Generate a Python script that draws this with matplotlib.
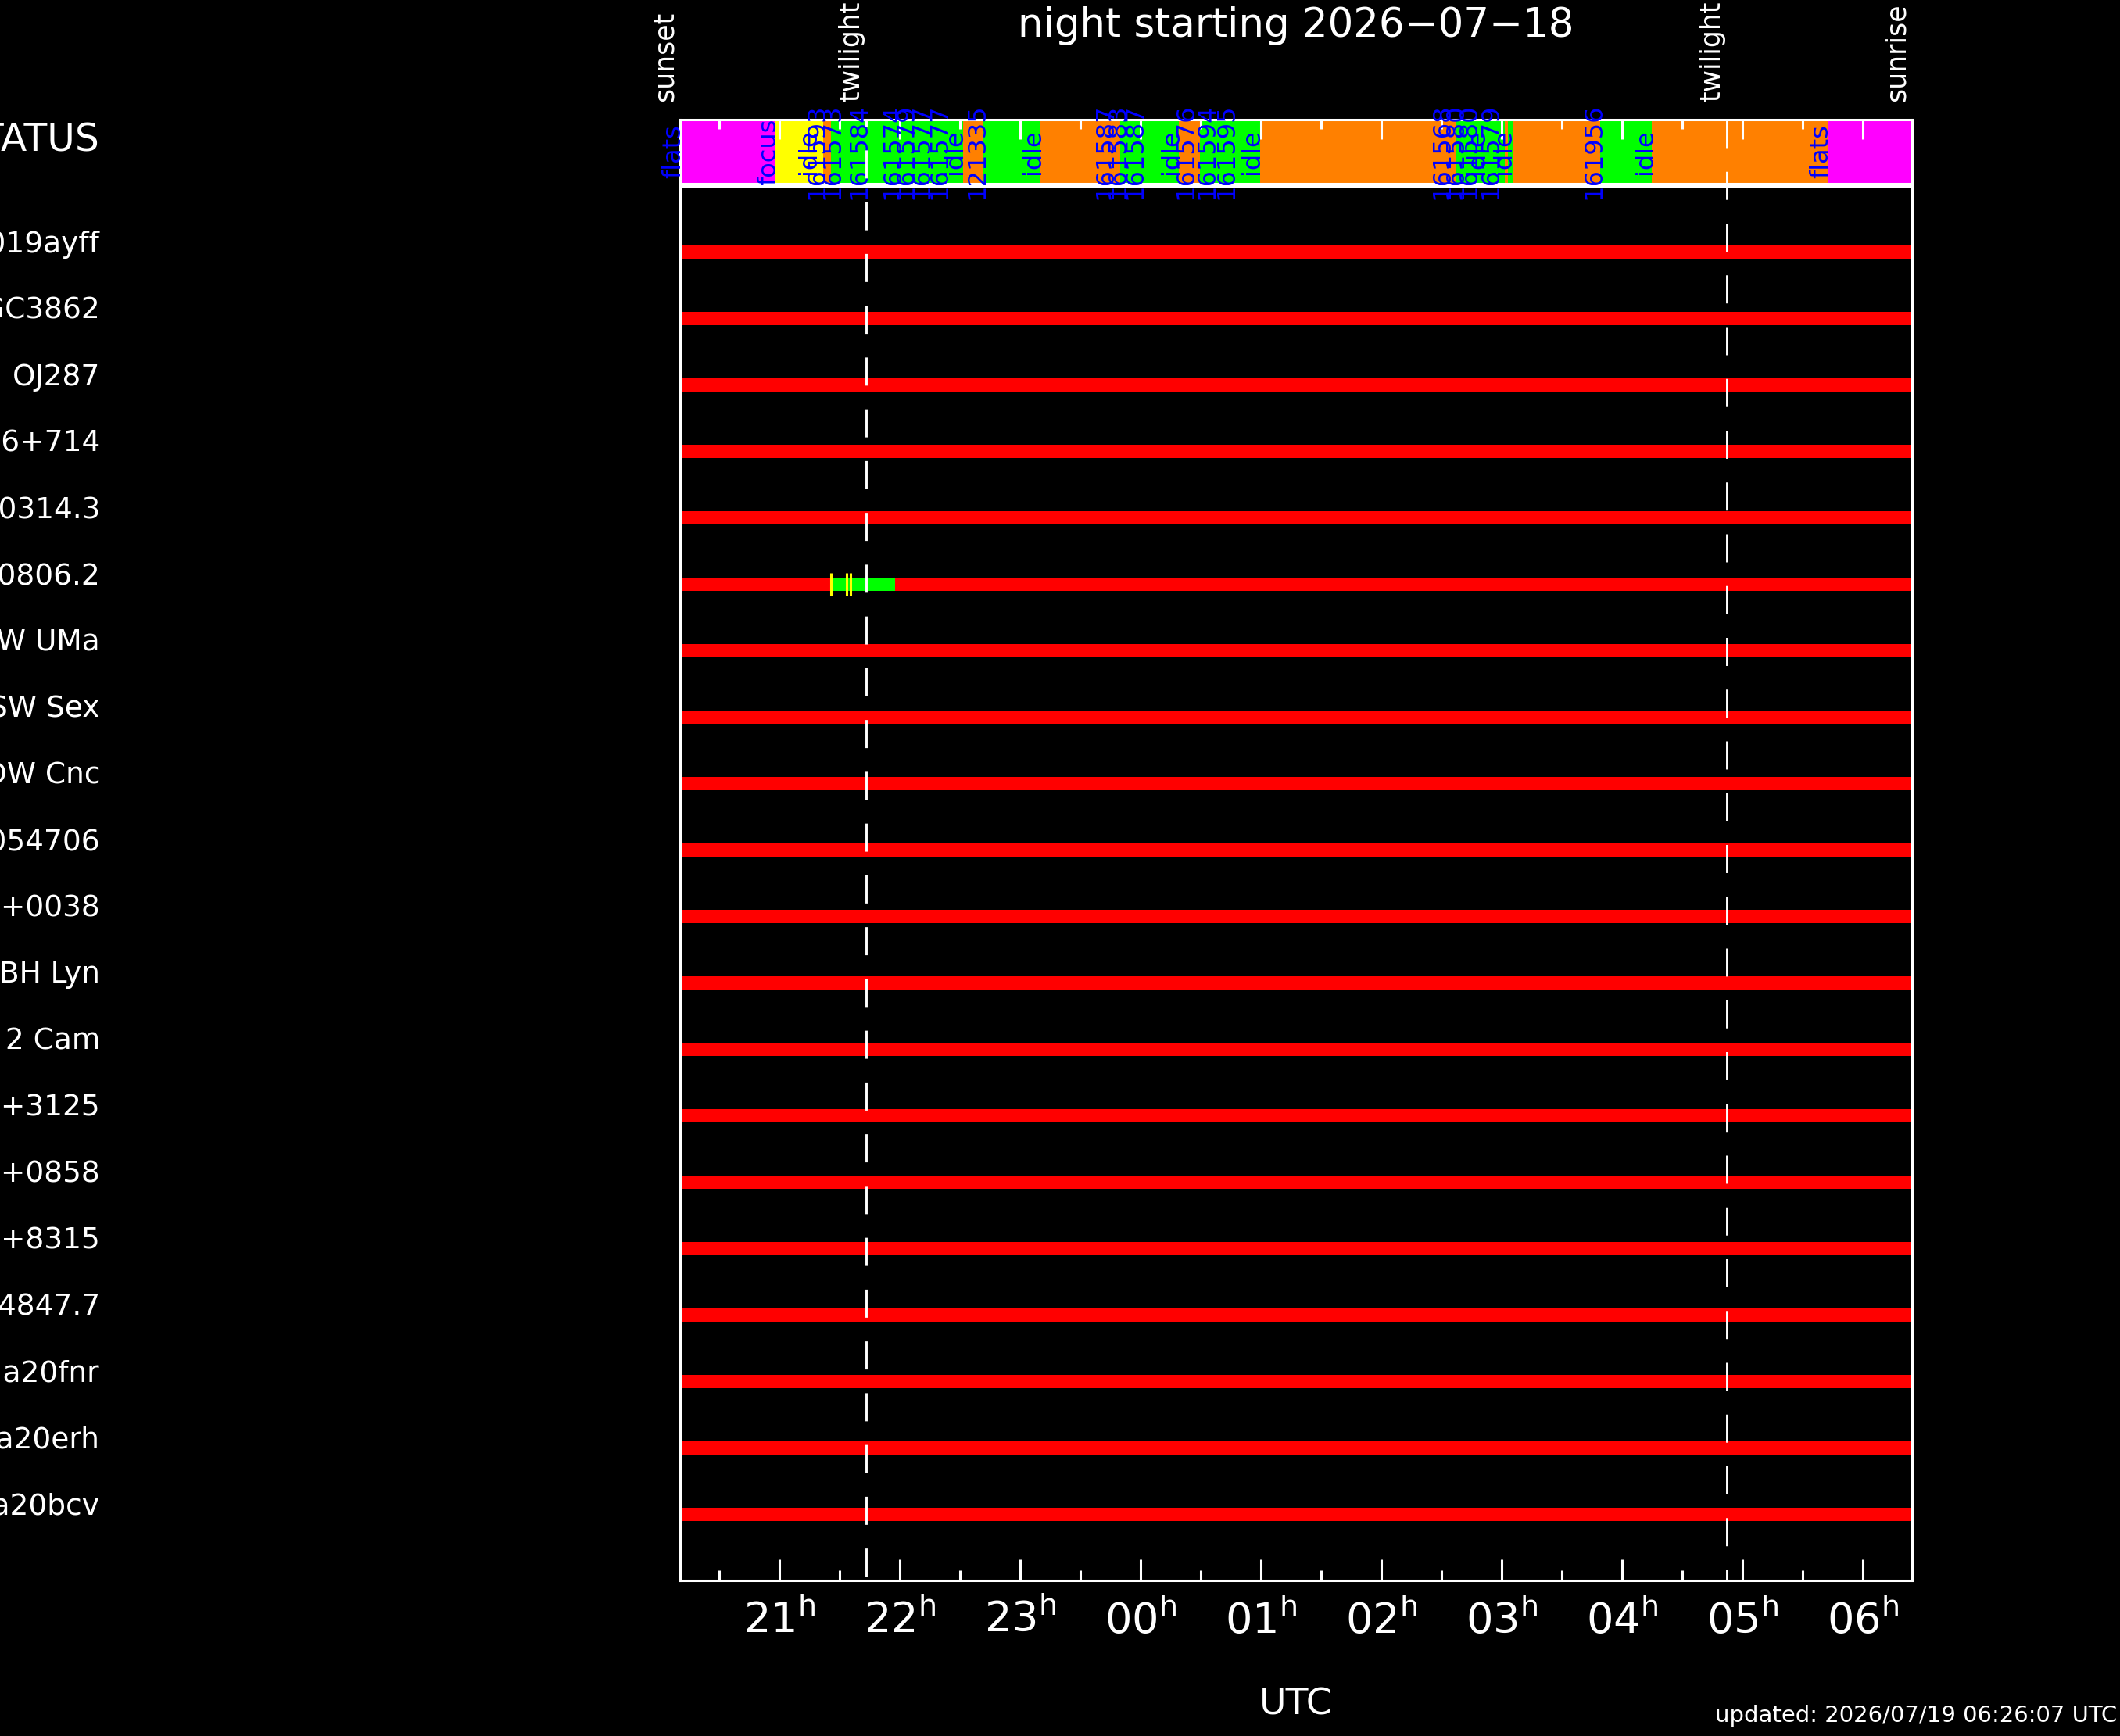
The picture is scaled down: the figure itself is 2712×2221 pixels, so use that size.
import numpy as np
import matplotlib
matplotlib.use('Agg')
from matplotlib import pyplot as plt
from matplotlib import transforms

plt.rcParams['font.family'] = ['DejaVu Sans']
plt.rcParams['lines.scale_dashes'] = False

night = '2026-07-18'
updated = '2026/07/19 06:26:07 UTC'

# UTC hours, times after midnight go on past 24
sunset = 20.175
sunrise = 30.409
twilight = [21.721, 28.870]
twilight_dash_offset = [19.7, 0.0]

targets = ['AT2019ayff', 'NGC3862', 'OJ287', 'S5 0716+714', '1RXS J0314.3',
           '1RXS J0806.2', 'SW UMa', 'SW Sex', 'DW Cnc', 'SDSS J054706',
           'SDSS J0813+0038', 'BH Lyn', 'HS 2 Cam', 'SDSS J1015+3125',
           'SDSS J0903+0858', 'SDSS J0725+8315', 'CRTS J104847.7',
           'Gaia20fnr', 'Gaia20erh', 'Gaia20bcv']
# observable window of every target (red bar)
vis_start = [20.175, 20.175, 20.175, 20.175, 20.175, 20.175, 20.175, 20.175, 20.175, 20.175,
             20.175, 20.175, 20.175, 20.175, 20.175, 20.175, 20.175, 20.175, 20.175, 20.175]
vis_end = [30.409, 30.409, 30.409, 30.409, 30.409, 30.409, 30.409, 30.409, 30.409, 30.409,
           30.409, 30.409, 30.409, 30.409, 30.409, 30.409, 30.409, 30.409, 30.409, 30.409]

# observed part (green) and exposure marks (yellow)
obs_target = [6]
obs_start = [21.442]
obs_end = [21.961]
mark_target = [6, 6, 6]
mark_time = [21.429, 21.558, 21.591]

# telescope status bar
status_start = [20.175, 20.968, 21.364, 21.429, 22.526, 22.695, 23.162, 23.831, 24.318,
                24.494, 24.994, 26.623, 27.026, 27.052, 27.091, 27.818, 28.247, 29.708]
status_end = [20.968, 21.364, 21.429, 22.526, 22.695, 23.162, 23.831, 24.318, 24.494,
              24.994, 26.623, 27.026, 27.052, 27.091, 27.818, 28.247, 29.708, 30.409]
status_kind = ['flats', 'focus', 'idle', 'obs', 'idle', 'obs', 'idle', 'obs', 'idle',
               'obs', 'idle', 'obs', 'idle', 'obs', 'idle', 'obs', 'idle', 'flats']
label_time = [20.175, 20.968, 21.299, 21.364, 21.494, 21.714, 21.994, 22.104, 22.234,
              22.383, 22.513, 22.695, 23.162, 23.760, 23.864, 24.006, 24.312, 24.429,
              24.604, 24.766, 24.981, 26.558, 26.669, 26.779, 26.851, 26.961, 27.071,
              27.818, 28.247, 29.708]
label_text = ['flats', 'focus', 'idle', '161593', '161573', '161584', '161574', '161579',
              '161577', '161577', 'idle', '121335', 'idle', '161587', '161583', '161587',
              'idle', '161576', '161594', '161595', 'idle', '161568', '161580', '161580',
              'idle', '161579', 'idle', '161956', 'idle', 'flats']

hours = [21, 22, 23, 24, 25, 26, 27, 28, 29, 30]

kind_color = {'flats': '#ff00ff', 'focus': '#ffff00', 'idle': '#ff8000', 'obs': '#00ff00'}

W, H = 2712, 2221
fig = plt.figure(figsize=(W / 100, H / 100), dpi=100, facecolor='black')

left, right = 870 / W, 2446 / W
main_rect = [left, (H - 2022) / H, right - left, (2022 - 238) / H]
stat_rect = [left, (H - 235) / H, right - left, (235 - 153) / H]

ax_s = fig.add_axes(stat_rect, zorder=2)
ax = fig.add_axes(main_rect, zorder=3)

# ---- status bar
ax_s.set_facecolor('black')
for s, e, k in zip(status_start, status_end, status_kind):
    ax_s.axvspan(s, e, color=kind_color[k], lw=0)
for t, txt in zip(label_time, label_text):
    ax_s.text(t, 0.5, txt, rotation=90, rotation_mode='anchor', ha='center', va='baseline',
              color='#0000ff', fontsize=23, clip_on=False)
ax_s.set_xlim(sunset, sunrise)
ax_s.set_ylim(0, 1)
ax_s.set_yticks([])
ax_s.set_xticks(hours)
ax_s.set_xticks(np.arange(20.5, 30.5, 1.0), minor=True)
ax_s.tick_params(axis='x', which='both', direction='in', top=True, bottom=False,
                 labelbottom=False, labeltop=False, colors='white', width=2.2)
ax_s.tick_params(axis='x', which='major', length=18)
ax_s.tick_params(axis='x', which='minor', length=8.6)
for sp in ax_s.spines.values():
    sp.set_color('white')
    sp.set_linewidth(2.2)

lab_x = (128 / W - left) / (right - left)
ax_s.text(lab_x, 0.5, 'STATUS', transform=ax_s.transAxes, ha='right', va='baseline',
          color='white', fontsize=35)

# sunset / twilight / sunrise names above the bar
top_tr = transforms.offset_copy(ax_s.get_xaxis_transform(), fig=fig, x=-9, y=23, units='dots')
for t, name in zip([sunset, twilight[0], twilight[1], sunrise],
                   ['sunset', 'twilight', 'twilight', 'sunrise']):
    ax_s.text(t, 1, name, transform=top_tr, rotation=90, rotation_mode='anchor',
              ha='left', va='baseline', color='white', fontsize=25, clip_on=False)

# ---- targets
ax.set_facecolor('none')
rows = np.arange(1, len(targets) + 1)
ax.barh(rows, np.array(vis_end) - np.array(vis_start), left=vis_start, height=0.2,
        color='#ff0000', lw=0)
ax.barh(obs_target, np.array(obs_end) - np.array(obs_start), left=obs_start, height=0.2,
        color='#00ff00', lw=0)
ax.vlines(mark_time, np.array(mark_target) - 0.17, np.array(mark_target) + 0.17,
          color='#ffff00', lw=2.2)
for r, name in zip(rows, targets):
    ax.text(lab_x, r, name, transform=ax.get_yaxis_transform(), ha='right', va='baseline',
            color='white', fontsize=27)

y_top = (stat_rect[1] + stat_rect[3] - main_rect[1]) / main_rect[3]
for t, off in zip(twilight, twilight_dash_offset):
    ax.plot([t, t], [y_top, 0], transform=ax.get_xaxis_transform(), clip_on=False,
            color='white', lw=2.1, linestyle=(off, (25.9, 21.8)))

ax.set_xlim(sunset, sunrise)
ax.set_ylim(len(targets) + 1, 0)
ax.set_yticks([])
ax.set_xticks(hours)
ax.set_xticklabels([r'$\mathregular{%02d^{h}}$' % (h % 24) for h in hours])
ax.set_xticks(np.arange(20.5, 30.5, 1.0), minor=True)
ax.tick_params(axis='x', which='both', direction='in', top=False, bottom=True,
               colors='white', width=2.2, labelsize=39, pad=17)
ax.tick_params(axis='x', which='major', length=19.4)
ax.tick_params(axis='x', which='minor', length=9.4)
for sp in ax.spines.values():
    sp.set_color('white')
    sp.set_linewidth(2.2)

xc = (left + right) / 2
fig.text(xc, 1 - 47 / H, 'night starting ' + night.replace('-', '\u2212'), ha='center',
         va='baseline', color='white', fontsize=37)
fig.text(xc, (H - 2193) / H, 'UTC', ha='center', va='baseline', color='white', fontsize=34)
fig.text(2708 / W, 18 / H, 'updated: ' + updated, ha='right', va='baseline',
         color='white', fontsize=21)

fig.savefig('out.png', dpi=100, facecolor='black')
